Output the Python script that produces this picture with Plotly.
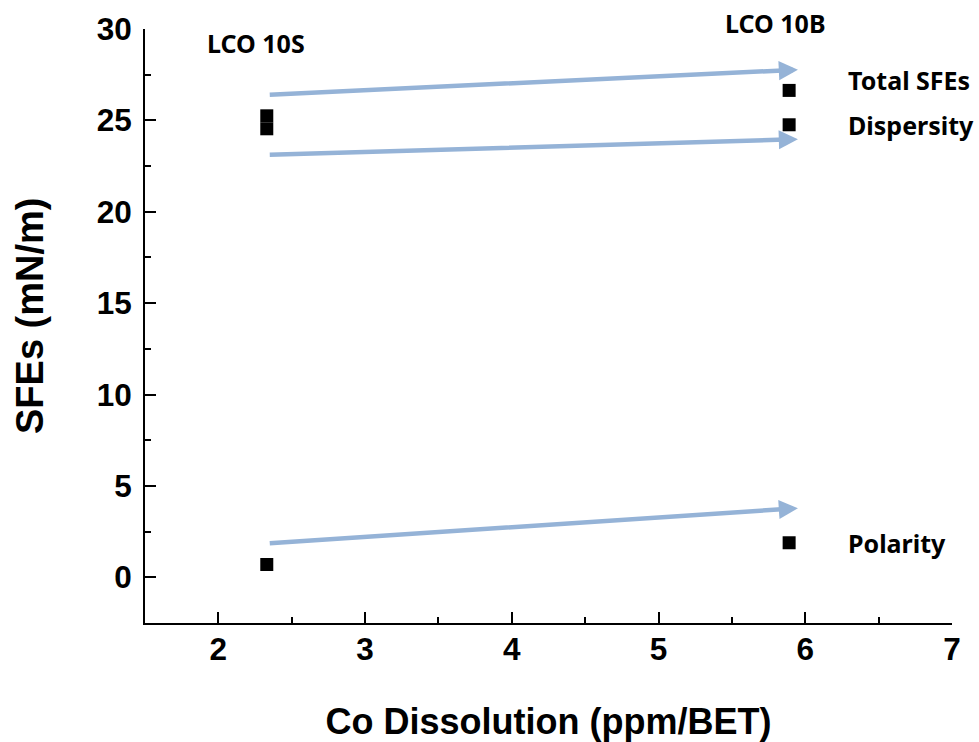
import plotly.graph_objects as go

# ---- data ----
sample_labels = ["LCO 10S", "LCO 10B"]
sample_label_x = [2.256, 5.80]
co_dissolution = [2.33, 5.89]           # ppm/BET
total_sfes = [25.25, 26.64]             # mN/m
dispersity = [24.54, 24.76]
polarity = [0.70, 1.89]
series_names = ["Total SFEs", "Dispersity", "Polarity"]
series_label_y = [27.21, 24.75, 1.88]

# trend arrows (tail -> head) in data units
arrow_x_tail = [2.34, 2.34, 2.34]
arrow_x_head = [5.95, 5.95, 5.95]
arrow_y_tail = [26.40, 23.12, 1.86]
arrow_y_head = [27.77, 23.97, 3.78]

x_ticks = [2, 3, 4, 5, 6, 7]
y_ticks = [0, 5, 10, 15, 20, 25, 30]

fig = go.Figure()

x_all = co_dissolution * 3
y_all = total_sfes + dispersity + polarity
fig.add_trace(go.Scatter(
    x=x_all, y=y_all, mode="markers",
    marker=dict(symbol="square", size=13, color="black"),
    showlegend=False, cliponaxis=False,
))

arrow_color = "#95B3D7"
for xt, yt, xh, yh in zip(arrow_x_tail, arrow_y_tail, arrow_x_head, arrow_y_head):
    fig.add_annotation(
        x=xh, y=yh, ax=xt, ay=yt, xref="x", yref="y", axref="x", ayref="y",
        showarrow=True, arrowhead=2, arrowsize=0.85, arrowwidth=4.5,
        arrowcolor=arrow_color, text="",
    )

ann_font = dict(family="Noto Sans", size=25, color="black", weight="bold")

# sample labels (placed inside the axis range, shifted in pixels)
fig.add_annotation(x=sample_label_x[0], y=30, yshift=-14, text=sample_labels[0],
                   showarrow=False, font=ann_font, xanchor="center", yanchor="middle")
fig.add_annotation(x=sample_label_x[1], y=30, yshift=6, text=sample_labels[1],
                   showarrow=False, font=ann_font, xanchor="center", yanchor="middle")

# series labels next to the LCO 10B points
for name, yv in zip(series_names, series_label_y):
    fig.add_annotation(x=6.28, y=yv, text=name, showarrow=False, font=ann_font,
                       xanchor="left", yanchor="middle")

# y-axis title
fig.add_annotation(x=-0.1425, y=0.5168, xref="paper", yref="paper",
                   text="SFEs (mN/m)", textangle=-90, showarrow=False,
                   font=dict(family="Liberation Sans", size=38, color="black", weight="bold"),
                   xanchor="center", yanchor="middle")

axis_font = dict(family="Liberation Sans", size=31.5, color="black", weight="bold")

fig.update_xaxes(
    range=[1.5, 7], tickvals=x_ticks, ticktext=[str(v) for v in x_ticks],
    showline=True, linecolor="black", linewidth=2, mirror=False,
    ticks="inside", ticklen=11, tickwidth=2, tickcolor="black",
    minor=dict(dtick=0.5, tick0=1.5, ticks="inside", ticklen=6, tickwidth=2, tickcolor="black"),
    showgrid=False, zeroline=False, tickfont=axis_font, ticklabelstandoff=-3,
    title=dict(text="Co Dissolution (ppm/BET)",
               font=dict(family="Liberation Sans", size=36, color="black", weight="bold"),
               standoff=49),
)
fig.update_yaxes(
    range=[-2.5, 30], tickvals=y_ticks, ticktext=[str(v) for v in y_ticks],
    showline=True, linecolor="black", linewidth=2, mirror=False,
    ticks="inside", ticklen=11, tickwidth=2, tickcolor="black",
    minor=dict(dtick=2.5, tick0=-2.5, ticks="inside", ticklen=6, tickwidth=2, tickcolor="black"),
    showgrid=False, zeroline=False, tickfont=axis_font, ticklabelstandoff=5,
)

fig.update_layout(
    width=979, height=742,
    margin=dict(l=145, r=27, t=29, b=119, autoexpand=False),
    plot_bgcolor="white", paper_bgcolor="white",
    showlegend=False,
)

fig.write_html("out.html")
